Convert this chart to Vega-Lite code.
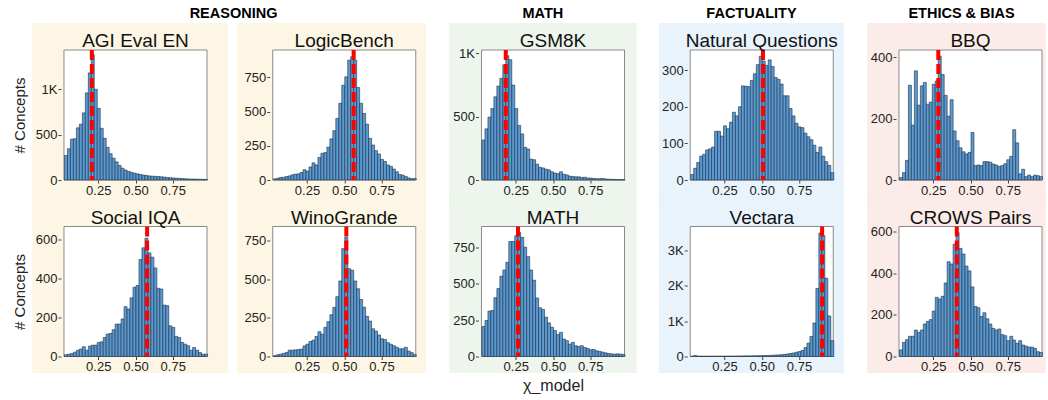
{
"$schema": "https://vega.github.io/schema/vega-lite/v6.json",
"padding": {"left": 12, "top": 6, "right": 0, "bottom": 0},
"config": {
  "font": "Liberation Sans",
  "view": {"stroke": null},
  "axis": {"labelFontSize": 13, "tickSize": 3, "labelPadding": 1, "domain": false, "grid": false, "zindex": 1, "labelColor": "#222222", "tickColor": "#444444", "titleFontSize": 15, "titleFontWeight": "normal", "titleColor": "#222222"},
  "text": {"font": "Liberation Sans", "color": "#111111", "align": "center", "baseline": "alphabetic"}
},
"datasets": {
"agi": [{"x":0.03,"n":270},{"x":0.05,"n":345},{"x":0.07,"n":450},{"x":0.09,"n":455},{"x":0.11,"n":575},{"x":0.13,"n":615},{"x":0.15,"n":740},{"x":0.17,"n":960},{"x":0.19,"n":1180},{"x":0.21,"n":1380},{"x":0.23,"n":1000},{"x":0.25,"n":790},{"x":0.27,"n":570},{"x":0.29,"n":460},{"x":0.31,"n":360},{"x":0.33,"n":290},{"x":0.35,"n":240},{"x":0.37,"n":200},{"x":0.39,"n":160},{"x":0.41,"n":130},{"x":0.43,"n":110},{"x":0.45,"n":95},{"x":0.47,"n":85},{"x":0.49,"n":75},{"x":0.51,"n":68},{"x":0.53,"n":60},{"x":0.55,"n":55},{"x":0.57,"n":50},{"x":0.59,"n":45},{"x":0.61,"n":42},{"x":0.63,"n":40},{"x":0.65,"n":38},{"x":0.67,"n":35},{"x":0.69,"n":32},{"x":0.71,"n":28},{"x":0.73,"n":25},{"x":0.75,"n":22},{"x":0.77,"n":20},{"x":0.79,"n":18},{"x":0.81,"n":16},{"x":0.83,"n":14},{"x":0.85,"n":12},{"x":0.87,"n":11},{"x":0.89,"n":10},{"x":0.91,"n":9},{"x":0.93,"n":8},{"x":0.95,"n":7},{"x":0.97,"n":6}],
"logic": [{"x":0.03,"n":8},{"x":0.05,"n":12},{"x":0.07,"n":18},{"x":0.09,"n":20},{"x":0.11,"n":25},{"x":0.13,"n":30},{"x":0.15,"n":38},{"x":0.17,"n":42},{"x":0.19,"n":45},{"x":0.21,"n":55},{"x":0.23,"n":75},{"x":0.25,"n":65},{"x":0.27,"n":95},{"x":0.29,"n":125},{"x":0.31,"n":110},{"x":0.33,"n":165},{"x":0.35,"n":195},{"x":0.37,"n":200},{"x":0.39,"n":240},{"x":0.41,"n":300},{"x":0.43,"n":360},{"x":0.45,"n":450},{"x":0.47,"n":560},{"x":0.49,"n":692},{"x":0.51,"n":753},{"x":0.53,"n":875},{"x":0.55,"n":900},{"x":0.57,"n":875},{"x":0.59,"n":675},{"x":0.61,"n":560},{"x":0.63,"n":486},{"x":0.65,"n":408},{"x":0.67,"n":304},{"x":0.69,"n":255},{"x":0.71,"n":214},{"x":0.73,"n":190},{"x":0.75,"n":150},{"x":0.77,"n":135},{"x":0.79,"n":110},{"x":0.81,"n":100},{"x":0.83,"n":80},{"x":0.85,"n":60},{"x":0.87,"n":40},{"x":0.89,"n":35},{"x":0.91,"n":25},{"x":0.93,"n":15},{"x":0.95,"n":10},{"x":0.97,"n":10}],
"siqa": [{"x":0.03,"n":9},{"x":0.05,"n":12},{"x":0.07,"n":15},{"x":0.09,"n":22},{"x":0.11,"n":32},{"x":0.13,"n":38},{"x":0.15,"n":50},{"x":0.17,"n":32},{"x":0.19,"n":53},{"x":0.21,"n":58},{"x":0.23,"n":58},{"x":0.25,"n":72},{"x":0.27,"n":75},{"x":0.29,"n":97},{"x":0.31,"n":115},{"x":0.33,"n":118},{"x":0.35,"n":137},{"x":0.37,"n":166},{"x":0.39,"n":166},{"x":0.41,"n":192},{"x":0.43,"n":255},{"x":0.45,"n":243},{"x":0.47,"n":300},{"x":0.49,"n":354},{"x":0.51,"n":363},{"x":0.53,"n":496},{"x":0.55,"n":556},{"x":0.57,"n":605},{"x":0.59,"n":530},{"x":0.61,"n":508},{"x":0.63,"n":453},{"x":0.65,"n":349},{"x":0.67,"n":345},{"x":0.69,"n":263},{"x":0.71,"n":260},{"x":0.73,"n":157},{"x":0.75,"n":149},{"x":0.77,"n":103},{"x":0.79,"n":97},{"x":0.81,"n":72},{"x":0.83,"n":63},{"x":0.85,"n":55},{"x":0.87,"n":32},{"x":0.89,"n":46},{"x":0.91,"n":32},{"x":0.93,"n":20},{"x":0.95,"n":12},{"x":0.97,"n":12}],
"wino": [{"x":0.03,"n":5},{"x":0.05,"n":11},{"x":0.07,"n":15},{"x":0.09,"n":20},{"x":0.11,"n":26},{"x":0.13,"n":41},{"x":0.15,"n":41},{"x":0.17,"n":43},{"x":0.19,"n":45},{"x":0.21,"n":48},{"x":0.23,"n":69},{"x":0.25,"n":80},{"x":0.27,"n":98},{"x":0.29,"n":106},{"x":0.31,"n":130},{"x":0.33,"n":161},{"x":0.35,"n":145},{"x":0.37,"n":189},{"x":0.39,"n":226},{"x":0.41,"n":271},{"x":0.43,"n":319},{"x":0.45,"n":388},{"x":0.47,"n":490},{"x":0.49,"n":700},{"x":0.51,"n":775},{"x":0.53,"n":570},{"x":0.55,"n":560},{"x":0.57,"n":490},{"x":0.59,"n":440},{"x":0.61,"n":370},{"x":0.63,"n":320},{"x":0.65,"n":260},{"x":0.67,"n":230},{"x":0.69,"n":180},{"x":0.71,"n":165},{"x":0.73,"n":140},{"x":0.75,"n":115},{"x":0.77,"n":110},{"x":0.79,"n":90},{"x":0.81,"n":80},{"x":0.83,"n":70},{"x":0.85,"n":60},{"x":0.87,"n":50},{"x":0.89,"n":50},{"x":0.91,"n":60},{"x":0.93,"n":35},{"x":0.95,"n":25},{"x":0.97,"n":12}],
"gsm": [{"x":0.03,"n":316},{"x":0.05,"n":404},{"x":0.07,"n":497},{"x":0.09,"n":564},{"x":0.11,"n":657},{"x":0.13,"n":742},{"x":0.15,"n":803},{"x":0.17,"n":910},{"x":0.19,"n":982},{"x":0.21,"n":950},{"x":0.23,"n":750},{"x":0.25,"n":564},{"x":0.27,"n":431},{"x":0.29,"n":364},{"x":0.31,"n":258},{"x":0.33,"n":245},{"x":0.35,"n":165},{"x":0.37,"n":160},{"x":0.39,"n":125},{"x":0.41,"n":100},{"x":0.43,"n":95},{"x":0.45,"n":85},{"x":0.47,"n":80},{"x":0.49,"n":65},{"x":0.51,"n":55},{"x":0.53,"n":50},{"x":0.55,"n":65},{"x":0.57,"n":45},{"x":0.59,"n":40},{"x":0.61,"n":30},{"x":0.63,"n":28},{"x":0.65,"n":25},{"x":0.67,"n":25},{"x":0.69,"n":20},{"x":0.71,"n":22},{"x":0.73,"n":15},{"x":0.75,"n":15},{"x":0.77,"n":12},{"x":0.79,"n":10},{"x":0.81,"n":10},{"x":0.83,"n":12},{"x":0.85,"n":8},{"x":0.87,"n":6},{"x":0.89,"n":5},{"x":0.91,"n":4},{"x":0.93,"n":3},{"x":0.95,"n":2},{"x":0.97,"n":2}],
"math": [{"x":0.03,"n":206},{"x":0.05,"n":247},{"x":0.07,"n":312},{"x":0.09,"n":316},{"x":0.11,"n":404},{"x":0.13,"n":467},{"x":0.15,"n":552},{"x":0.17,"n":594},{"x":0.19,"n":647},{"x":0.21,"n":790},{"x":0.23,"n":790},{"x":0.25,"n":829},{"x":0.27,"n":852},{"x":0.29,"n":818},{"x":0.31,"n":751},{"x":0.33,"n":686},{"x":0.35,"n":594},{"x":0.37,"n":524},{"x":0.39,"n":402},{"x":0.41,"n":335},{"x":0.43,"n":323},{"x":0.45,"n":270},{"x":0.47,"n":231},{"x":0.49,"n":201},{"x":0.51,"n":178},{"x":0.53,"n":150},{"x":0.55,"n":166},{"x":0.57,"n":120},{"x":0.59,"n":109},{"x":0.61,"n":85},{"x":0.63,"n":97},{"x":0.65,"n":74},{"x":0.67,"n":69},{"x":0.69,"n":74},{"x":0.71,"n":62},{"x":0.73,"n":55},{"x":0.75,"n":46},{"x":0.77,"n":48},{"x":0.79,"n":39},{"x":0.81,"n":35},{"x":0.83,"n":30},{"x":0.85,"n":25},{"x":0.87,"n":21},{"x":0.89,"n":18},{"x":0.91,"n":16},{"x":0.93,"n":18},{"x":0.95,"n":16},{"x":0.97,"n":14}],
"nq": [{"x":0.03,"n":15},{"x":0.05,"n":32},{"x":0.07,"n":48},{"x":0.09,"n":65},{"x":0.11,"n":70},{"x":0.13,"n":82},{"x":0.15,"n":85},{"x":0.17,"n":90},{"x":0.19,"n":133},{"x":0.21,"n":133},{"x":0.23,"n":120},{"x":0.25,"n":148},{"x":0.27,"n":140},{"x":0.29,"n":158},{"x":0.31,"n":185},{"x":0.33,"n":175},{"x":0.35,"n":200},{"x":0.37,"n":257},{"x":0.39,"n":256},{"x":0.41,"n":255},{"x":0.43,"n":272},{"x":0.45,"n":290},{"x":0.47,"n":315},{"x":0.49,"n":338},{"x":0.51,"n":325},{"x":0.53,"n":313},{"x":0.55,"n":328},{"x":0.57,"n":310},{"x":0.59,"n":280},{"x":0.61,"n":275},{"x":0.63,"n":262},{"x":0.65,"n":230},{"x":0.67,"n":230},{"x":0.69,"n":195},{"x":0.71,"n":175},{"x":0.73,"n":155},{"x":0.75,"n":145},{"x":0.77,"n":143},{"x":0.79,"n":128},{"x":0.81,"n":118},{"x":0.83,"n":110},{"x":0.85,"n":95},{"x":0.87,"n":75},{"x":0.89,"n":90},{"x":0.91,"n":65},{"x":0.93,"n":50},{"x":0.95,"n":40},{"x":0.97,"n":20}],
"vect": [{"x":0.03,"n":10},{"x":0.05,"n":30},{"x":0.07,"n":12},{"x":0.09,"n":10},{"x":0.11,"n":10},{"x":0.13,"n":8},{"x":0.15,"n":10},{"x":0.17,"n":12},{"x":0.19,"n":10},{"x":0.21,"n":12},{"x":0.23,"n":10},{"x":0.25,"n":12},{"x":0.27,"n":14},{"x":0.29,"n":12},{"x":0.31,"n":14},{"x":0.33,"n":15},{"x":0.35,"n":15},{"x":0.37,"n":16},{"x":0.39,"n":18},{"x":0.41,"n":18},{"x":0.43,"n":20},{"x":0.45,"n":20},{"x":0.47,"n":22},{"x":0.49,"n":24},{"x":0.51,"n":25},{"x":0.53,"n":28},{"x":0.55,"n":30},{"x":0.57,"n":35},{"x":0.59,"n":40},{"x":0.61,"n":45},{"x":0.63,"n":50},{"x":0.65,"n":60},{"x":0.67,"n":70},{"x":0.69,"n":85},{"x":0.71,"n":100},{"x":0.73,"n":120},{"x":0.75,"n":140},{"x":0.77,"n":170},{"x":0.79,"n":250},{"x":0.81,"n":380},{"x":0.83,"n":570},{"x":0.85,"n":950},{"x":0.87,"n":1930},{"x":0.89,"n":3500},{"x":0.91,"n":3430},{"x":0.93,"n":2220},{"x":0.95,"n":1150},{"x":0.97,"n":450}],
"bbq": [{"x":0.03,"n":8},{"x":0.05,"n":24},{"x":0.07,"n":64},{"x":0.09,"n":309},{"x":0.11,"n":179},{"x":0.13,"n":356},{"x":0.15,"n":244},{"x":0.17,"n":307},{"x":0.19,"n":318},{"x":0.21,"n":247},{"x":0.23,"n":254},{"x":0.25,"n":312},{"x":0.27,"n":323},{"x":0.29,"n":404},{"x":0.31,"n":344},{"x":0.33,"n":276},{"x":0.35,"n":208},{"x":0.37,"n":262},{"x":0.39,"n":160},{"x":0.41,"n":128},{"x":0.43,"n":105},{"x":0.45,"n":92},{"x":0.47,"n":85},{"x":0.49,"n":90},{"x":0.51,"n":155},{"x":0.53,"n":47},{"x":0.55,"n":49},{"x":0.57,"n":47},{"x":0.59,"n":60},{"x":0.61,"n":60},{"x":0.63,"n":58},{"x":0.65,"n":52},{"x":0.67,"n":49},{"x":0.69,"n":44},{"x":0.71,"n":47},{"x":0.73,"n":53},{"x":0.75,"n":66},{"x":0.77,"n":77},{"x":0.79,"n":164},{"x":0.81,"n":121},{"x":0.83,"n":20},{"x":0.85,"n":35},{"x":0.87,"n":11},{"x":0.89,"n":16},{"x":0.91,"n":11},{"x":0.93,"n":16},{"x":0.95,"n":14},{"x":0.97,"n":11}],
"crows": [{"x":0.03,"n":32},{"x":0.05,"n":68},{"x":0.07,"n":81},{"x":0.09,"n":97},{"x":0.11,"n":97},{"x":0.13,"n":127},{"x":0.15,"n":116},{"x":0.17,"n":127},{"x":0.19,"n":156},{"x":0.21,"n":168},{"x":0.23,"n":177},{"x":0.25,"n":218},{"x":0.27,"n":284},{"x":0.29,"n":276},{"x":0.31,"n":289},{"x":0.33,"n":353},{"x":0.35,"n":455},{"x":0.37,"n":444},{"x":0.39,"n":539},{"x":0.41,"n":595},{"x":0.43,"n":519},{"x":0.45,"n":492},{"x":0.47,"n":434},{"x":0.49,"n":411},{"x":0.51,"n":334},{"x":0.53,"n":240},{"x":0.55,"n":234},{"x":0.57,"n":192},{"x":0.59,"n":210},{"x":0.61,"n":181},{"x":0.63,"n":156},{"x":0.65,"n":135},{"x":0.67,"n":127},{"x":0.69,"n":132},{"x":0.71,"n":105},{"x":0.73,"n":100},{"x":0.75,"n":76},{"x":0.77,"n":97},{"x":0.79,"n":79},{"x":0.81,"n":63},{"x":0.83,"n":76},{"x":0.85,"n":55},{"x":0.87,"n":50},{"x":0.89,"n":45},{"x":0.91,"n":45},{"x":0.93,"n":39},{"x":0.95,"n":23},{"x":0.97,"n":19}]
},
"columns": 5,
"bounds": "flush",
"spacing": {"row": 46.5, "column": 59.75},
"concat": [
 {"width": 149, "height": 130, "resolve": {"scale": {"y": "independent"}},
  "layer": [
   {"data": {"values": [{}]}, "mark": {"type": "rect", "color": "#fdf6e4"},
    "encoding": {"x": {"datum": -0.193, "type": "quantitative", "title": null, "scale": {"domain": [0.02, 0.98]}}, "x2": {"datum": 1.122}, "y": {"datum": -0.192, "type": "quantitative", "scale": {"domain": [0, 1]}, "axis": null}, "y2": {"datum": 1.208}}},
   {"data": {"values": [{}]}, "mark": {"type": "rect", "fill": "#ffffff", "stroke": "#8a8a8a", "strokeWidth": 1},
    "encoding": {"x": {"datum": 0.02, "type": "quantitative", "title": null}, "x2": {"datum": 0.98}, "y": {"datum": 0, "type": "quantitative", "scale": {"domain": [0, 1]}, "axis": null}, "y2": {"datum": 1}}},
   {"data": {"name": "agi"}, "mark": {"type": "bar", "binSpacing": 0, "fill": "#5b9bd5", "stroke": "#1f2f40", "strokeWidth": 0.6},
    "encoding": {"x": {"field": "x", "type": "quantitative", "title": null, "bin": {"extent": [0.02, 0.98], "step": 0.02, "nice": false}, "scale": {"domain": [0.02, 0.98]}, "axis": {"values": [0.25, 0.5, 0.75], "format": ".2f", "zindex": 1}},
     "y": {"aggregate": "sum", "field": "n", "type": "quantitative", "scale": {"domain": [0, 1433], "nice": false}, "axis": {"values": [0, 500, 1000], "labelExpr": "datum.value >= 1000 ? format(datum.value / 1000, 'd') + 'K' : format(datum.value, 'd')", "title": "# Concepts", "titlePadding": 8, "zindex": 1}}}},
   {"data": {"values": [{"m": 0.207}]}, "mark": {"type": "rule", "color": "#ff0000", "strokeWidth": 4, "strokeDash": [10, 4]},
    "encoding": {"x": {"field": "m", "type": "quantitative", "title": null}}},
   {"data": {"values": [{"t": "AGI Eval EN"}]}, "mark": {"type": "text", "fontSize": 19},
    "encoding": {"text": {"field": "t"}, "x": {"datum": 0.5, "type": "quantitative", "title": null}, "y": {"datum": 1.023, "type": "quantitative", "scale": {"domain": [0, 1]}, "axis": null}}}
  ]},
 {"width": 149, "height": 130, "resolve": {"scale": {"y": "independent"}},
  "layer": [
   {"data": {"values": [{}]}, "mark": {"type": "rect", "color": "#fdf6e4"},
    "encoding": {"x": {"datum": -0.22, "type": "quantitative", "title": null, "scale": {"domain": [0.02, 0.98]}}, "x2": {"datum": 1.049}, "y": {"datum": -0.192, "type": "quantitative", "scale": {"domain": [0, 1]}, "axis": null}, "y2": {"datum": 1.208}}},
   {"data": {"values": [{}]}, "mark": {"type": "rect", "fill": "#ffffff", "stroke": "#8a8a8a", "strokeWidth": 1},
    "encoding": {"x": {"datum": 0.02, "type": "quantitative", "title": null}, "x2": {"datum": 0.98}, "y": {"datum": 0, "type": "quantitative", "scale": {"domain": [0, 1]}, "axis": null}, "y2": {"datum": 1}}},
   {"data": {"name": "logic"}, "mark": {"type": "bar", "binSpacing": 0, "fill": "#5b9bd5", "stroke": "#1f2f40", "strokeWidth": 0.6},
    "encoding": {"x": {"field": "x", "type": "quantitative", "title": null, "bin": {"extent": [0.02, 0.98], "step": 0.02, "nice": false}, "scale": {"domain": [0.02, 0.98]}, "axis": {"values": [0.25, 0.5, 0.75], "format": ".2f", "zindex": 1}},
     "y": {"aggregate": "sum", "field": "n", "type": "quantitative", "scale": {"domain": [0, 949], "nice": false}, "axis": {"values": [0, 250, 500, 750], "labelExpr": "datum.value >= 1000 ? format(datum.value / 1000, 'd') + 'K' : format(datum.value, 'd')", "title": null, "zindex": 1}}}},
   {"data": {"values": [{"m": 0.563}]}, "mark": {"type": "rule", "color": "#ff0000", "strokeWidth": 4, "strokeDash": [10, 4]},
    "encoding": {"x": {"field": "m", "type": "quantitative", "title": null}}},
   {"data": {"values": [{"t": "LogicBench"}]}, "mark": {"type": "text", "fontSize": 19},
    "encoding": {"text": {"field": "t"}, "x": {"datum": 0.5, "type": "quantitative", "title": null}, "y": {"datum": 1.023, "type": "quantitative", "scale": {"domain": [0, 1]}, "axis": null}}},
   {"data": {"values": [{"t": "REASONING"}]}, "mark": {"type": "text", "fontSize": 14.5, "fontWeight": "bold", "color": "#000000"},
    "encoding": {"text": {"field": "t"}, "x": {"datum": -0.243, "type": "quantitative", "title": null}, "y": {"datum": 1.244, "type": "quantitative", "scale": {"domain": [0, 1]}, "axis": null}}}
  ]},
 {"width": 149, "height": 130, "resolve": {"scale": {"y": "independent"}},
  "layer": [
   {"data": {"values": [{}]}, "mark": {"type": "rect", "color": "#edf5ec"},
    "encoding": {"x": {"datum": -0.196, "type": "quantitative", "title": null, "scale": {"domain": [0.02, 0.98]}}, "x2": {"datum": 1.061}, "y": {"datum": -0.192, "type": "quantitative", "scale": {"domain": [0, 1]}, "axis": null}, "y2": {"datum": 1.208}}},
   {"data": {"values": [{}]}, "mark": {"type": "rect", "fill": "#ffffff", "stroke": "#8a8a8a", "strokeWidth": 1},
    "encoding": {"x": {"datum": 0.02, "type": "quantitative", "title": null}, "x2": {"datum": 0.98}, "y": {"datum": 0, "type": "quantitative", "scale": {"domain": [0, 1]}, "axis": null}, "y2": {"datum": 1}}},
   {"data": {"name": "gsm"}, "mark": {"type": "bar", "binSpacing": 0, "fill": "#5b9bd5", "stroke": "#1f2f40", "strokeWidth": 0.6},
    "encoding": {"x": {"field": "x", "type": "quantitative", "title": null, "bin": {"extent": [0.02, 0.98], "step": 0.02, "nice": false}, "scale": {"domain": [0.02, 0.98]}, "axis": {"values": [0.25, 0.5, 0.75], "format": ".2f", "zindex": 1}},
     "y": {"aggregate": "sum", "field": "n", "type": "quantitative", "scale": {"domain": [0, 1027], "nice": false}, "axis": {"values": [0, 500, 1000], "labelExpr": "datum.value >= 1000 ? format(datum.value / 1000, 'd') + 'K' : format(datum.value, 'd')", "title": null, "zindex": 1}}}},
   {"data": {"values": [{"m": 0.183}]}, "mark": {"type": "rule", "color": "#ff0000", "strokeWidth": 4, "strokeDash": [10, 4]},
    "encoding": {"x": {"field": "m", "type": "quantitative", "title": null}}},
   {"data": {"values": [{"t": "GSM8K"}]}, "mark": {"type": "text", "fontSize": 19},
    "encoding": {"text": {"field": "t"}, "x": {"datum": 0.5, "type": "quantitative", "title": null}, "y": {"datum": 1.023, "type": "quantitative", "scale": {"domain": [0, 1]}, "axis": null}}},
   {"data": {"values": [{"t": "MATH"}]}, "mark": {"type": "text", "fontSize": 14.5, "fontWeight": "bold", "color": "#000000"},
    "encoding": {"text": {"field": "t"}, "x": {"datum": 0.432, "type": "quantitative", "title": null}, "y": {"datum": 1.244, "type": "quantitative", "scale": {"domain": [0, 1]}, "axis": null}}}
  ]},
 {"width": 149, "height": 130, "resolve": {"scale": {"y": "independent"}},
  "layer": [
   {"data": {"values": [{}]}, "mark": {"type": "rect", "color": "#e9f3fc"},
    "encoding": {"x": {"datum": -0.191, "type": "quantitative", "title": null, "scale": {"domain": [0.02, 0.98]}}, "x2": {"datum": 1.052}, "y": {"datum": -0.192, "type": "quantitative", "scale": {"domain": [0, 1]}, "axis": null}, "y2": {"datum": 1.208}}},
   {"data": {"values": [{}]}, "mark": {"type": "rect", "fill": "#ffffff", "stroke": "#8a8a8a", "strokeWidth": 1},
    "encoding": {"x": {"datum": 0.02, "type": "quantitative", "title": null}, "x2": {"datum": 0.98}, "y": {"datum": 0, "type": "quantitative", "scale": {"domain": [0, 1]}, "axis": null}, "y2": {"datum": 1}}},
   {"data": {"name": "nq"}, "mark": {"type": "bar", "binSpacing": 0, "fill": "#5b9bd5", "stroke": "#1f2f40", "strokeWidth": 0.6},
    "encoding": {"x": {"field": "x", "type": "quantitative", "title": null, "bin": {"extent": [0.02, 0.98], "step": 0.02, "nice": false}, "scale": {"domain": [0.02, 0.98]}, "axis": {"values": [0.25, 0.5, 0.75], "format": ".2f", "zindex": 1}},
     "y": {"aggregate": "sum", "field": "n", "type": "quantitative", "scale": {"domain": [0, 355], "nice": false}, "axis": {"values": [0, 100, 200, 300], "labelExpr": "datum.value >= 1000 ? format(datum.value / 1000, 'd') + 'K' : format(datum.value, 'd')", "title": null, "zindex": 1}}}},
   {"data": {"values": [{"m": 0.508}]}, "mark": {"type": "rule", "color": "#ff0000", "strokeWidth": 4, "strokeDash": [10, 4]},
    "encoding": {"x": {"field": "m", "type": "quantitative", "title": null}}},
   {"data": {"values": [{"t": "Natural Questions"}]}, "mark": {"type": "text", "fontSize": 19},
    "encoding": {"text": {"field": "t"}, "x": {"datum": 0.5, "type": "quantitative", "title": null}, "y": {"datum": 1.023, "type": "quantitative", "scale": {"domain": [0, 1]}, "axis": null}}},
   {"data": {"values": [{"t": "FACTUALITY"}]}, "mark": {"type": "text", "fontSize": 14.5, "fontWeight": "bold", "color": "#000000"},
    "encoding": {"text": {"field": "t"}, "x": {"datum": 0.431, "type": "quantitative", "title": null}, "y": {"datum": 1.244, "type": "quantitative", "scale": {"domain": [0, 1]}, "axis": null}}}
  ]},
 {"width": 149, "height": 130, "resolve": {"scale": {"y": "independent"}},
  "layer": [
   {"data": {"values": [{}]}, "mark": {"type": "rect", "color": "#fcece9"},
    "encoding": {"x": {"datum": -0.193, "type": "quantitative", "title": null, "scale": {"domain": [0.02, 0.98]}}, "x2": {"datum": 1.005}, "y": {"datum": -0.192, "type": "quantitative", "scale": {"domain": [0, 1]}, "axis": null}, "y2": {"datum": 1.208}}},
   {"data": {"values": [{}]}, "mark": {"type": "rect", "fill": "#ffffff", "stroke": "#8a8a8a", "strokeWidth": 1},
    "encoding": {"x": {"datum": 0.02, "type": "quantitative", "title": null}, "x2": {"datum": 0.98}, "y": {"datum": 0, "type": "quantitative", "scale": {"domain": [0, 1]}, "axis": null}, "y2": {"datum": 1}}},
   {"data": {"name": "bbq"}, "mark": {"type": "bar", "binSpacing": 0, "fill": "#5b9bd5", "stroke": "#1f2f40", "strokeWidth": 0.6},
    "encoding": {"x": {"field": "x", "type": "quantitative", "title": null, "bin": {"extent": [0.02, 0.98], "step": 0.02, "nice": false}, "scale": {"domain": [0.02, 0.98]}, "axis": {"values": [0.25, 0.5, 0.75], "format": ".2f", "zindex": 1}},
     "y": {"aggregate": "sum", "field": "n", "type": "quantitative", "scale": {"domain": [0, 424], "nice": false}, "axis": {"values": [0, 200, 400], "labelExpr": "datum.value >= 1000 ? format(datum.value / 1000, 'd') + 'K' : format(datum.value, 'd')", "title": null, "zindex": 1}}}},
   {"data": {"values": [{"m": 0.284}]}, "mark": {"type": "rule", "color": "#ff0000", "strokeWidth": 4, "strokeDash": [10, 4]},
    "encoding": {"x": {"field": "m", "type": "quantitative", "title": null}}},
   {"data": {"values": [{"t": "BBQ"}]}, "mark": {"type": "text", "fontSize": 19},
    "encoding": {"text": {"field": "t"}, "x": {"datum": 0.5, "type": "quantitative", "title": null}, "y": {"datum": 1.023, "type": "quantitative", "scale": {"domain": [0, 1]}, "axis": null}}},
   {"data": {"values": [{"t": "ETHICS & BIAS"}]}, "mark": {"type": "text", "fontSize": 14.5, "fontWeight": "bold", "color": "#000000"},
    "encoding": {"text": {"field": "t"}, "x": {"datum": 0.44, "type": "quantitative", "title": null}, "y": {"datum": 1.244, "type": "quantitative", "scale": {"domain": [0, 1]}, "axis": null}}}
  ]},
 {"width": 149, "height": 130, "resolve": {"scale": {"y": "independent"}},
  "layer": [
   {"data": {"values": [{}]}, "mark": {"type": "rect", "color": "#fdf6e4"},
    "encoding": {"x": {"datum": -0.193, "type": "quantitative", "title": null, "scale": {"domain": [0.02, 0.98]}}, "x2": {"datum": 1.122}, "y": {"datum": -0.127, "type": "quantitative", "scale": {"domain": [0, 1]}, "axis": null}, "y2": {"datum": 1.235}}},
   {"data": {"values": [{}]}, "mark": {"type": "rect", "fill": "#ffffff", "stroke": "#8a8a8a", "strokeWidth": 1},
    "encoding": {"x": {"datum": 0.02, "type": "quantitative", "title": null}, "x2": {"datum": 0.98}, "y": {"datum": 0, "type": "quantitative", "scale": {"domain": [0, 1]}, "axis": null}, "y2": {"datum": 1}}},
   {"data": {"name": "siqa"}, "mark": {"type": "bar", "binSpacing": 0, "fill": "#5b9bd5", "stroke": "#1f2f40", "strokeWidth": 0.6},
    "encoding": {"x": {"field": "x", "type": "quantitative", "title": null, "bin": {"extent": [0.02, 0.98], "step": 0.02, "nice": false}, "scale": {"domain": [0.02, 0.98]}, "axis": {"values": [0.25, 0.5, 0.75], "format": ".2f", "zindex": 1}},
     "y": {"aggregate": "sum", "field": "n", "type": "quantitative", "scale": {"domain": [0, 665], "nice": false}, "axis": {"values": [0, 200, 400, 600], "labelExpr": "datum.value >= 1000 ? format(datum.value / 1000, 'd') + 'K' : format(datum.value, 'd')", "title": "# Concepts", "titlePadding": 8, "zindex": 1}}}},
   {"data": {"values": [{"m": 0.578}]}, "mark": {"type": "rule", "color": "#ff0000", "strokeWidth": 4, "strokeDash": [10, 4]},
    "encoding": {"x": {"field": "m", "type": "quantitative", "title": null}}},
   {"data": {"values": [{"t": "Social IQA"}]}, "mark": {"type": "text", "fontSize": 19},
    "encoding": {"text": {"field": "t"}, "x": {"datum": 0.5, "type": "quantitative", "title": null}, "y": {"datum": 1.023, "type": "quantitative", "scale": {"domain": [0, 1]}, "axis": null}}}
  ]},
 {"width": 149, "height": 130, "resolve": {"scale": {"y": "independent"}},
  "layer": [
   {"data": {"values": [{}]}, "mark": {"type": "rect", "color": "#fdf6e4"},
    "encoding": {"x": {"datum": -0.22, "type": "quantitative", "title": null, "scale": {"domain": [0.02, 0.98]}}, "x2": {"datum": 1.049}, "y": {"datum": -0.127, "type": "quantitative", "scale": {"domain": [0, 1]}, "axis": null}, "y2": {"datum": 1.235}}},
   {"data": {"values": [{}]}, "mark": {"type": "rect", "fill": "#ffffff", "stroke": "#8a8a8a", "strokeWidth": 1},
    "encoding": {"x": {"datum": 0.02, "type": "quantitative", "title": null}, "x2": {"datum": 0.98}, "y": {"datum": 0, "type": "quantitative", "scale": {"domain": [0, 1]}, "axis": null}, "y2": {"datum": 1}}},
   {"data": {"name": "wino"}, "mark": {"type": "bar", "binSpacing": 0, "fill": "#5b9bd5", "stroke": "#1f2f40", "strokeWidth": 0.6},
    "encoding": {"x": {"field": "x", "type": "quantitative", "title": null, "bin": {"extent": [0.02, 0.98], "step": 0.02, "nice": false}, "scale": {"domain": [0.02, 0.98]}, "axis": {"values": [0.25, 0.5, 0.75], "format": ".2f", "zindex": 1}},
     "y": {"aggregate": "sum", "field": "n", "type": "quantitative", "scale": {"domain": [0, 844], "nice": false}, "axis": {"values": [0, 250, 500, 750], "labelExpr": "datum.value >= 1000 ? format(datum.value / 1000, 'd') + 'K' : format(datum.value, 'd')", "title": null, "zindex": 1}}}},
   {"data": {"values": [{"m": 0.514}]}, "mark": {"type": "rule", "color": "#ff0000", "strokeWidth": 4, "strokeDash": [10, 4]},
    "encoding": {"x": {"field": "m", "type": "quantitative", "title": null}}},
   {"data": {"values": [{"t": "WinoGrande"}]}, "mark": {"type": "text", "fontSize": 19},
    "encoding": {"text": {"field": "t"}, "x": {"datum": 0.5, "type": "quantitative", "title": null}, "y": {"datum": 1.023, "type": "quantitative", "scale": {"domain": [0, 1]}, "axis": null}}}
  ]},
 {"width": 149, "height": 130, "resolve": {"scale": {"y": "independent"}},
  "layer": [
   {"data": {"values": [{}]}, "mark": {"type": "rect", "color": "#edf5ec"},
    "encoding": {"x": {"datum": -0.196, "type": "quantitative", "title": "χ_model", "scale": {"domain": [0.02, 0.98]}}, "x2": {"datum": 1.061}, "y": {"datum": -0.127, "type": "quantitative", "scale": {"domain": [0, 1]}, "axis": null}, "y2": {"datum": 1.235}}},
   {"data": {"values": [{}]}, "mark": {"type": "rect", "fill": "#ffffff", "stroke": "#8a8a8a", "strokeWidth": 1},
    "encoding": {"x": {"datum": 0.02, "type": "quantitative", "title": "χ_model"}, "x2": {"datum": 0.98}, "y": {"datum": 0, "type": "quantitative", "scale": {"domain": [0, 1]}, "axis": null}, "y2": {"datum": 1}}},
   {"data": {"name": "math"}, "mark": {"type": "bar", "binSpacing": 0, "fill": "#5b9bd5", "stroke": "#1f2f40", "strokeWidth": 0.6},
    "encoding": {"x": {"field": "x", "type": "quantitative", "title": "χ_model", "bin": {"extent": [0.02, 0.98], "step": 0.02, "nice": false}, "scale": {"domain": [0.02, 0.98]}, "axis": {"values": [0.25, 0.5, 0.75], "format": ".2f", "zindex": 1, "titleFontSize": 16, "titlePadding": 4}},
     "y": {"aggregate": "sum", "field": "n", "type": "quantitative", "scale": {"domain": [0, 893], "nice": false}, "axis": {"values": [0, 250, 500, 750], "labelExpr": "datum.value >= 1000 ? format(datum.value / 1000, 'd') + 'K' : format(datum.value, 'd')", "title": null, "zindex": 1}}}},
   {"data": {"values": [{"m": 0.265}]}, "mark": {"type": "rule", "color": "#ff0000", "strokeWidth": 4, "strokeDash": [10, 4]},
    "encoding": {"x": {"field": "m", "type": "quantitative", "title": "χ_model"}}},
   {"data": {"values": [{"t": "MATH"}]}, "mark": {"type": "text", "fontSize": 19},
    "encoding": {"text": {"field": "t"}, "x": {"datum": 0.5, "type": "quantitative", "title": "χ_model"}, "y": {"datum": 1.023, "type": "quantitative", "scale": {"domain": [0, 1]}, "axis": null}}}
  ]},
 {"width": 149, "height": 130, "resolve": {"scale": {"y": "independent"}},
  "layer": [
   {"data": {"values": [{}]}, "mark": {"type": "rect", "color": "#e9f3fc"},
    "encoding": {"x": {"datum": -0.191, "type": "quantitative", "title": null, "scale": {"domain": [0.02, 0.98]}}, "x2": {"datum": 1.052}, "y": {"datum": -0.127, "type": "quantitative", "scale": {"domain": [0, 1]}, "axis": null}, "y2": {"datum": 1.235}}},
   {"data": {"values": [{}]}, "mark": {"type": "rect", "fill": "#ffffff", "stroke": "#8a8a8a", "strokeWidth": 1},
    "encoding": {"x": {"datum": 0.02, "type": "quantitative", "title": null}, "x2": {"datum": 0.98}, "y": {"datum": 0, "type": "quantitative", "scale": {"domain": [0, 1]}, "axis": null}, "y2": {"datum": 1}}},
   {"data": {"name": "vect"}, "mark": {"type": "bar", "binSpacing": 0, "fill": "#5b9bd5", "stroke": "#1f2f40", "strokeWidth": 0.6},
    "encoding": {"x": {"field": "x", "type": "quantitative", "title": null, "bin": {"extent": [0.02, 0.98], "step": 0.02, "nice": false}, "scale": {"domain": [0.02, 0.98]}, "axis": {"values": [0.25, 0.5, 0.75], "format": ".2f", "zindex": 1}},
     "y": {"aggregate": "sum", "field": "n", "type": "quantitative", "scale": {"domain": [0, 3686], "nice": false}, "axis": {"values": [0, 1000, 2000, 3000], "labelExpr": "datum.value >= 1000 ? format(datum.value / 1000, 'd') + 'K' : format(datum.value, 'd')", "title": null, "zindex": 1}}}},
   {"data": {"values": [{"m": 0.905}]}, "mark": {"type": "rule", "color": "#ff0000", "strokeWidth": 4, "strokeDash": [10, 4]},
    "encoding": {"x": {"field": "m", "type": "quantitative", "title": null}}},
   {"data": {"values": [{"t": "Vectara"}]}, "mark": {"type": "text", "fontSize": 19},
    "encoding": {"text": {"field": "t"}, "x": {"datum": 0.5, "type": "quantitative", "title": null}, "y": {"datum": 1.023, "type": "quantitative", "scale": {"domain": [0, 1]}, "axis": null}}}
  ]},
 {"width": 149, "height": 130, "resolve": {"scale": {"y": "independent"}},
  "layer": [
   {"data": {"values": [{}]}, "mark": {"type": "rect", "color": "#fcece9"},
    "encoding": {"x": {"datum": -0.193, "type": "quantitative", "title": null, "scale": {"domain": [0.02, 0.98]}}, "x2": {"datum": 1.005}, "y": {"datum": -0.127, "type": "quantitative", "scale": {"domain": [0, 1]}, "axis": null}, "y2": {"datum": 1.235}}},
   {"data": {"values": [{}]}, "mark": {"type": "rect", "fill": "#ffffff", "stroke": "#8a8a8a", "strokeWidth": 1},
    "encoding": {"x": {"datum": 0.02, "type": "quantitative", "title": null}, "x2": {"datum": 0.98}, "y": {"datum": 0, "type": "quantitative", "scale": {"domain": [0, 1]}, "axis": null}, "y2": {"datum": 1}}},
   {"data": {"name": "crows"}, "mark": {"type": "bar", "binSpacing": 0, "fill": "#5b9bd5", "stroke": "#1f2f40", "strokeWidth": 0.6},
    "encoding": {"x": {"field": "x", "type": "quantitative", "title": null, "bin": {"extent": [0.02, 0.98], "step": 0.02, "nice": false}, "scale": {"domain": [0.02, 0.98]}, "axis": {"values": [0.25, 0.5, 0.75], "format": ".2f", "zindex": 1}},
     "y": {"aggregate": "sum", "field": "n", "type": "quantitative", "scale": {"domain": [0, 624], "nice": false}, "axis": {"values": [0, 200, 400, 600], "labelExpr": "datum.value >= 1000 ? format(datum.value / 1000, 'd') + 'K' : format(datum.value, 'd')", "title": null, "zindex": 1}}}},
   {"data": {"values": [{"m": 0.408}]}, "mark": {"type": "rule", "color": "#ff0000", "strokeWidth": 4, "strokeDash": [10, 4]},
    "encoding": {"x": {"field": "m", "type": "quantitative", "title": null}}},
   {"data": {"values": [{"t": "CROWS Pairs"}]}, "mark": {"type": "text", "fontSize": 19},
    "encoding": {"text": {"field": "t"}, "x": {"datum": 0.5, "type": "quantitative", "title": null}, "y": {"datum": 1.023, "type": "quantitative", "scale": {"domain": [0, 1]}, "axis": null}}}
  ]}
]
}
